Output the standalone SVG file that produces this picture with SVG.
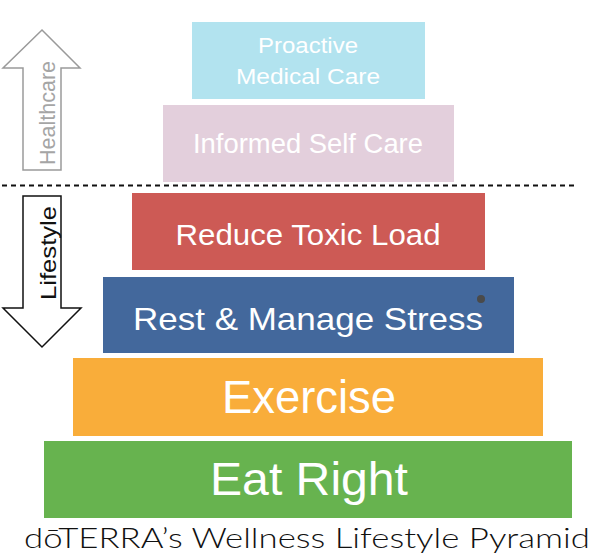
<svg xmlns="http://www.w3.org/2000/svg" width="600" height="559" viewBox="0 0 600 559">
<style>
.lbl{font-family:"Liberation Sans",Arial,sans-serif;fill:#ffffff;text-anchor:middle}
.side{font-family:"Liberation Sans",Arial,sans-serif;font-size:22px;text-anchor:middle}
</style>
<rect width="600" height="559" fill="#ffffff"/>
<g id="arrow-healthcare">
<path d="M42,30 L80,68 L61,68 L61,170 L23,170 L23,68 L3,68 Z" fill="#ffffff" stroke="#9a9a9a" stroke-width="1.5"/>
<text class="side" fill="#a5a5a5" transform="translate(55,113) rotate(-90)" textLength="104" lengthAdjust="spacingAndGlyphs">Healthcare</text>
</g>
<g id="arrow-lifestyle">
<path d="M23,196 L61,196 L61,308 L81,308 L42,347 L3,308 L23,308 Z" fill="#ffffff" stroke="#111111" stroke-width="1.5"/>
<text class="side" fill="#111111" transform="translate(56,253) rotate(-90)" textLength="94" lengthAdjust="spacingAndGlyphs">Lifestyle</text>
</g>
<g id="connectors">
<line x1="2" y1="185.5" x2="574" y2="185.5" stroke="#111111" stroke-width="2" stroke-dasharray="5,4"/>
</g>
<g id="proactive">
<rect x="192" y="22" width="233" height="77" fill="#b2e3ef"/>
<text class="lbl" x="308" y="53" font-size="22" textLength="100" lengthAdjust="spacingAndGlyphs">Proactive</text>
<text class="lbl" x="308" y="84" font-size="22" textLength="144" lengthAdjust="spacingAndGlyphs">Medical Care</text>
</g>
<g id="informed">
<rect x="163" y="105" width="291" height="77" fill="#e3cfdc"/>
<text class="lbl" x="308" y="153" font-size="27" textLength="230" lengthAdjust="spacingAndGlyphs">Informed Self Care</text>
</g>
<g id="reduce">
<rect x="132" y="193" width="353" height="77" fill="#cd5a55"/>
<text class="lbl" x="308" y="245" font-size="29" textLength="265" lengthAdjust="spacingAndGlyphs">Reduce Toxic Load</text>
</g>
<g id="rest">
<rect x="103" y="277" width="411" height="76" fill="#43689c"/>
<text class="lbl" x="308" y="330" font-size="32" textLength="350" lengthAdjust="spacingAndGlyphs">Rest &amp; Manage Stress</text>
<circle cx="481" cy="299" r="4" fill="#4a4a4a"/>
</g>
<g id="exercise">
<rect x="73" y="358" width="470" height="78" fill="#f9ad3a"/>
<text class="lbl" x="309" y="413" font-size="46" textLength="174" lengthAdjust="spacingAndGlyphs">Exercise</text>
</g>
<g id="eat">
<rect x="44" y="441" width="528" height="77" fill="#67b34f"/>
<text class="lbl" x="309" y="495" font-size="47" textLength="198" lengthAdjust="spacingAndGlyphs">Eat Right</text>
</g>
<text x="24" y="548" font-family="Lato,'Liberation Sans',sans-serif" font-weight="300" font-size="28" fill="#111111" textLength="566" lengthAdjust="spacingAndGlyphs">dōTERRA’s Wellness Lifestyle Pyramid</text>
</svg>
